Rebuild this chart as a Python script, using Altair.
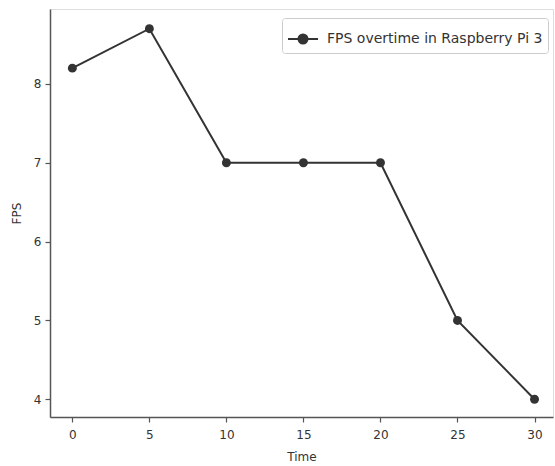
import altair as alt
import pandas as pd

time = [0, 5, 10, 15, 20, 25, 30]
fps = [8.2, 8.7, 7.0, 7.0, 7.0, 5.0, 4.0]
series = ["FPS overtime in Raspberry Pi 3"] * len(time)

df = pd.DataFrame({"Time": time, "FPS": fps, "series": series})

FONT = "DejaVu Sans"
AX = "#555555"
INK = "#333333"

x = alt.X("Time:Q", scale=alt.Scale(domain=[-1.45, 31.2], nice=False, zero=False),
          axis=alt.Axis(values=[0, 5, 10, 15, 20, 25, 30], title="Time", grid=False,
                        labelFontSize=12, titleFontSize=12, titleFontWeight="normal",
                        labelColor=INK, titleColor=INK, domainColor=AX, tickColor=AX,
                        domainWidth=1.5, tickWidth=1.2, tickSize=5, labelPadding=7,
                        titlePadding=11, labelFont=FONT, titleFont=FONT, labelFlush=False))
y = alt.Y("FPS:Q", scale=alt.Scale(domain=[3.775, 8.95], nice=False, zero=False),
          axis=alt.Axis(values=[4, 5, 6, 7, 8], title="FPS", grid=False,
                        labelFontSize=12, titleFontSize=12, titleFontWeight="normal",
                        labelColor=INK, titleColor=INK, domainColor=AX, tickColor=AX,
                        domainWidth=1.5, tickWidth=1.2, tickSize=5, labelPadding=4,
                        titlePadding=10, labelFont=FONT, titleFont=FONT, labelFlush=False))

color = alt.Color("series:N", scale=alt.Scale(range=[INK]),
                  legend=alt.Legend(title=None, orient="none", legendX=232, legendY=9,
                                    symbolType="M-1,0H1M-0.3,0A0.3,0.3 0 1,0 0.3,0A0.3,0.3 0 1,0 -0.3,0Z",
                                    symbolSize=900, symbolStrokeWidth=2,
                                    symbolFillColor=INK, symbolStrokeColor=INK,
                                    labelFontSize=14, labelFont=FONT, labelColor=INK,
                                    labelLimit=400,
                                    strokeColor="#cccccc", padding=5, cornerRadius=3,
                                    fillColor="white", labelOffset=8))

line = alt.Chart(df).mark_line(strokeWidth=2, color=INK).encode(x=x, y=y, color=color)
pts = alt.Chart(df).mark_point(filled=True, size=80, opacity=1, color=INK).encode(x=x, y=y, color=color)

chart = (line + pts).properties(
    width=503, height=408,
    autosize=alt.AutoSizeParams(type="none"),
    padding={"left": 50, "top": 9, "right": 2, "bottom": 49},
).configure_view(stroke=AX, strokeWidth=1.5).configure(font=FONT)

chart.save("out.html", embed_options={"renderer": "svg", "actions": False})
